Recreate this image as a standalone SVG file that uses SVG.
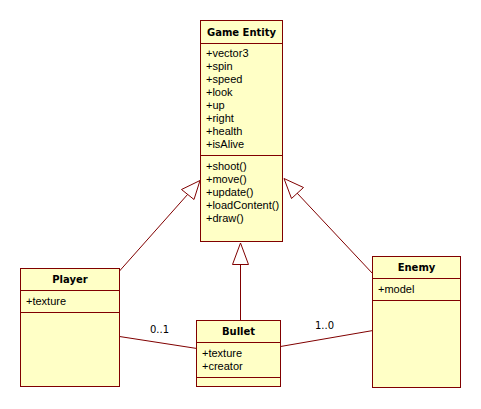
<svg xmlns="http://www.w3.org/2000/svg" width="481" height="409" viewBox="0 0 481 409">
<style>
.box{fill:#FFFFC6;stroke:#800000;stroke-width:1}
.ln{stroke:#800000;stroke-width:1;fill:none}
.tri{fill:#FFFFFF;stroke:#800000;stroke-width:1}
.t{font-family:"Liberation Sans",Arial,sans-serif;font-size:11px;fill:#000}
.h{font-family:"DejaVu Sans",Verdana,sans-serif;font-size:10px;font-weight:bold;fill:#000;text-anchor:middle}
.lbl{font-family:"DejaVu Sans",Verdana,sans-serif;font-size:10px;fill:#000}
</style>
<rect width="481" height="409" fill="#FFFFFF"/>
<g id="connectors">
<line class="ln" x1="119.5" y1="271" x2="188" y2="194"/>
<polygon class="tri" points="200,180.5 181.5,189.5 194,199.5"/>
<line class="ln" x1="240.5" y1="264" x2="240.5" y2="320"/>
<polygon class="tri" points="240.5,243 232.5,264.5 248.5,264.5"/>
<line class="ln" x1="373" y1="274" x2="297" y2="193"/>
<polygon class="tri" points="284,178.5 303.5,187.5 291.5,198.5"/>
<line class="ln" x1="119.5" y1="336.5" x2="197" y2="348.5"/>
<line class="ln" x1="280.5" y1="346.5" x2="373" y2="330.5"/>
<text class="lbl" x="150" y="333">0..1</text>
<text class="lbl" x="315" y="329">1..0</text>
</g>
<g id="game-entity">
<rect class="box" x="200.5" y="20.5" width="82" height="221"/>
<line class="ln" x1="200.5" y1="43.5" x2="282.5" y2="43.5"/>
<line class="ln" x1="200.5" y1="155.5" x2="282.5" y2="155.5"/>
<text class="h" x="241.5" y="35.5">Game Entity</text>
<text class="t" x="206" y="57">+vector3</text>
<text class="t" x="206" y="70">+spin</text>
<text class="t" x="206" y="83">+speed</text>
<text class="t" x="206" y="96">+look</text>
<text class="t" x="206" y="109">+up</text>
<text class="t" x="206" y="122">+right</text>
<text class="t" x="206" y="135">+health</text>
<text class="t" x="206" y="148">+isAlive</text>
<text class="t" x="206" y="169.5">+shoot()</text>
<text class="t" x="206" y="182.5">+move()</text>
<text class="t" x="206" y="195.5">+update()</text>
<text class="t" x="206" y="208.5">+loadContent()</text>
<text class="t" x="206" y="221.5">+draw()</text>
</g>
<g id="player">
<rect class="box" x="20.5" y="268.5" width="99" height="118"/>
<line class="ln" x1="20.5" y1="290.5" x2="119.5" y2="290.5"/>
<line class="ln" x1="20.5" y1="312.5" x2="119.5" y2="312.5"/>
<text class="h" x="70" y="283">Player</text>
<text class="t" x="26" y="305">+texture</text>
</g>
<g id="bullet">
<rect class="box" x="196.5" y="320.5" width="84" height="66"/>
<line class="ln" x1="196.5" y1="342.5" x2="280.5" y2="342.5"/>
<line class="ln" x1="196.5" y1="377.5" x2="280.5" y2="377.5"/>
<text class="h" x="238.5" y="335">Bullet</text>
<text class="t" x="202" y="357">+texture</text>
<text class="t" x="202" y="370">+creator</text>
</g>
<g id="enemy">
<rect class="box" x="372.5" y="256.5" width="88" height="131"/>
<line class="ln" x1="372.5" y1="278.5" x2="460.5" y2="278.5"/>
<line class="ln" x1="372.5" y1="300.5" x2="460.5" y2="300.5"/>
<text class="h" x="416.5" y="270.5">Enemy</text>
<text class="t" x="378" y="293">+model</text>
</g>
</svg>
